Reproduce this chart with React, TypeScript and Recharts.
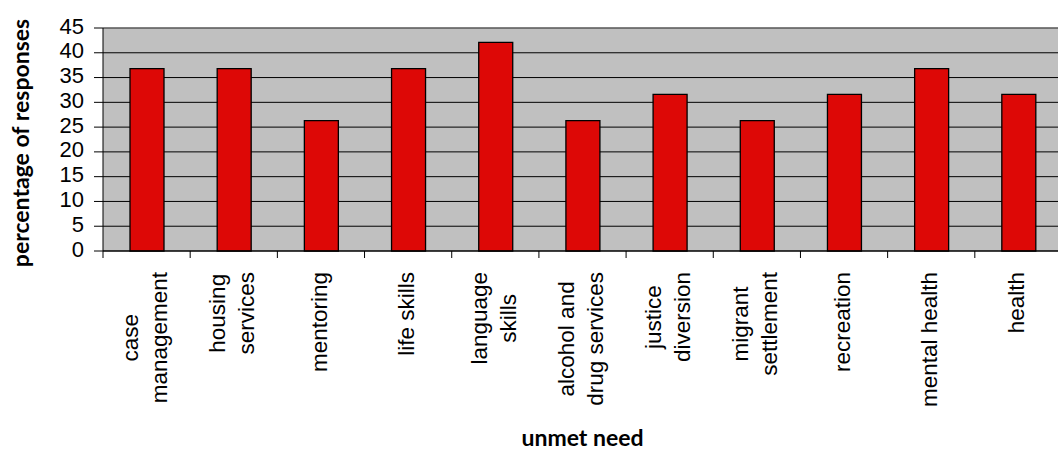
import React from 'react';
import { BarChart, Bar, XAxis, YAxis, CartesianGrid, ReferenceLine } from 'recharts';

// unmet needs, line breaks as they wrap under the axis
const needs = [
  'case\nmanagement',
  'housing\nservices',
  'mentoring',
  'life skills',
  'language\nskills',
  'alcohol and\ndrug services',
  'justice\ndiversion',
  'migrant\nsettlement',
  'recreation',
  'mental health',
  'health',
];

// percentage of responses naming each need
const responses = [36.8, 36.8, 26.3, 36.8, 42.1, 26.3, 31.6, 26.3, 31.6, 36.8, 31.6];

const yTicks = [0, 5, 10, 15, 20, 25, 30, 35, 40, 45];

const data = needs.map((need, i) => ({ need, pct: responses[i] }));

const CHART_W = 1070;
const CHART_H = 451;
const MARGIN = { top: 28, right: 8, bottom: 0, left: 0 };
const Y_AXIS_W = 103;
const X_AXIS_H = 200;
const PLOT_W = CHART_W - MARGIN.left - MARGIN.right - Y_AXIS_W;
const BAND = PLOT_W / needs.length;

const tickFont = '"Liberation Sans", Arial, sans-serif';
const titleFont = 'Lato, "Open Sans", sans-serif';
const TICK_PX = 22.5;
const LINE_GAP = 29;

let measureCtx: CanvasRenderingContext2D | null = null;
const textWidth = (s: string) => {
  if (!measureCtx) measureCtx = document.createElement('canvas').getContext('2d');
  if (!measureCtx) return s.length * TICK_PX * 0.5;
  measureCtx.font = `${TICK_PX}px "Liberation Sans"`;
  return measureCtx.measureText(s).width;
};

// category labels run bottom-to-top, lines centred on each other,
// tick marks sit on the category boundaries
const NeedTick = (props: any) => {
  const { x, y, payload, index } = props;
  const lines = String(payload.value).split('\n');
  const longest = Math.max(...lines.map(textWidth));
  const left = x - BAND / 2;
  return (
    <g>
      <line x1={left} y1={y} x2={left} y2={y + 7} stroke="#000" />
      {index === needs.length - 1 && (
        <line x1={x + BAND / 2} y1={y} x2={x + BAND / 2} y2={y + 7} stroke="#000" />
      )}
      <g transform={`translate(${x}, ${y + 21}) rotate(-90)`}>
        {lines.map((line, i) => (
          <text
            key={i}
            x={-longest / 2}
            y={(i - (lines.length - 1) / 2) * LINE_GAP + 5.8}
            textAnchor="middle"
            fontFamily={tickFont}
            fontSize={TICK_PX}
            fill="#000"
          >
            {line}
          </text>
        ))}
      </g>
    </g>
  );
};

const PctTick = ({ x, y, payload }: any) => (
  <text x={x} y={y + 5.5} textAnchor="end" fontFamily={tickFont} fontSize={22} fill="#000">
    {payload.value}
  </text>
);

export default function App() {
  return (
    <div
      style={{
        position: 'absolute',
        left: 0,
        top: 0,
        width: 1058,
        height: 451,
        overflow: 'hidden',
        background: '#fff',
      }}
    >
      <BarChart width={CHART_W} height={CHART_H} data={data} margin={MARGIN}>
        <CartesianGrid vertical={false} stroke="#000" fill="#c0c0c0" />
        <ReferenceLine y={45} stroke="#808080" />
        <XAxis
          dataKey="need"
          height={X_AXIS_H}
          interval={0}
          tickLine={false}
          tickSize={0}
          tickMargin={0}
          axisLine={{ stroke: '#000' }}
          tick={<NeedTick />}
          label={(p: any) => {
            const vb = p.viewBox || {};
            return (
              <text
                x={(vb.x ?? Y_AXIS_W) + (vb.width ?? PLOT_W) / 2}
                y={446}
                textAnchor="middle"
                fontFamily={titleFont}
                fontWeight={700}
                fontSize={23}
                fill="#000"
              >
                unmet need
              </text>
            );
          }}
        />
        <YAxis
          width={Y_AXIS_W}
          domain={[0, 45]}
          ticks={yTicks}
          interval={0}
          tickSize={9}
          tickMargin={10}
          axisLine={{ stroke: '#000' }}
          tickLine={{ stroke: '#000' }}
          tick={<PctTick />}
          label={() => (
            <text
              transform="translate(28.5, 143) rotate(-90)"
              textAnchor="middle"
              fontFamily={titleFont}
              fontWeight={700}
              fontSize={23}
              fill="#000"
            >
              percentage of responses
            </text>
          )}
        />
        <Bar
          dataKey="pct"
          fill="#dd0806"
          stroke="#000"
          strokeWidth={1.3}
          barSize={34}
          isAnimationActive={false}
        />
      </BarChart>
    </div>
  );
}
